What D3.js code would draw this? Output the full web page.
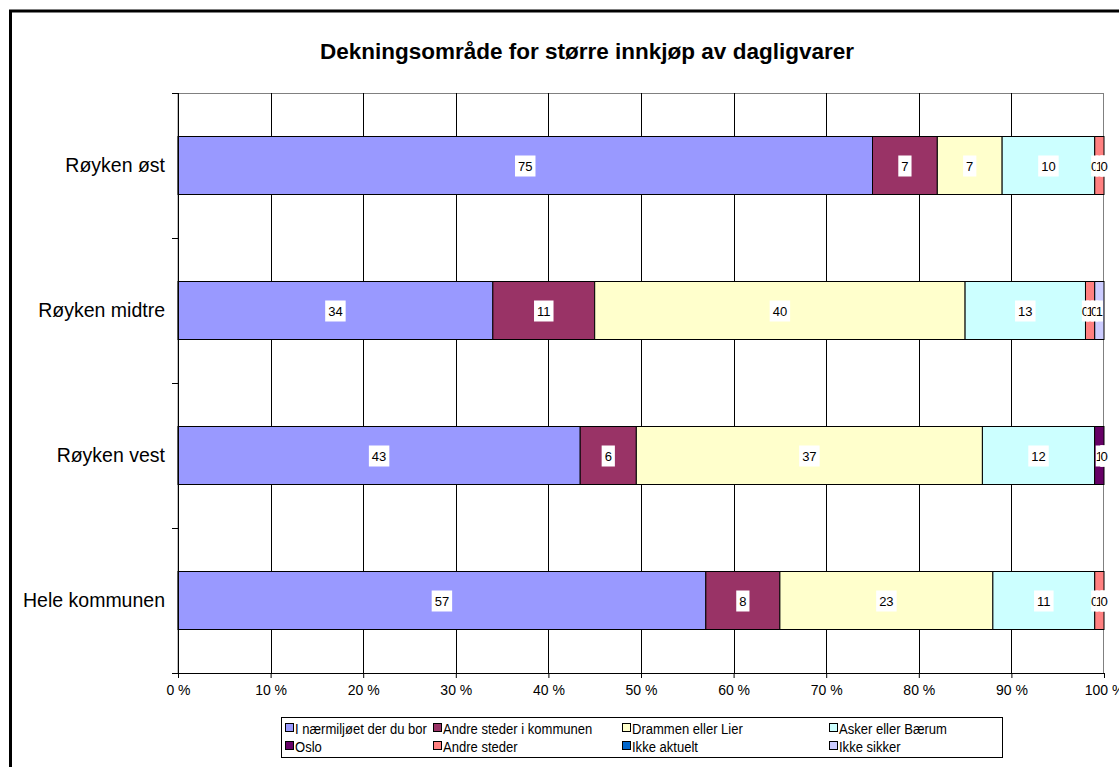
<!DOCTYPE html>
<html>
<head>
<meta charset="utf-8">
<script src="https://cdn.jsdelivr.net/npm/d3@7"></script>
<style>
  body { margin: 0; background: #fff; }
  text { font-family: Arial, "Liberation Sans", sans-serif; }
</style>
</head>
<body>
<svg width="1119" height="767"></svg>
<script>
var categories = ["Røyken øst", "Røyken midtre", "Røyken vest", "Hele kommunen"];
var seriesNames = ["I nærmiljøet der du bor", "Andre steder i kommunen", "Drammen eller Lier",
  "Asker eller Bærum", "Oslo", "Andre steder", "Ikke aktuelt", "Ikke sikker"];
var seriesColors = ["#9999FF", "#993366", "#FFFFCC", "#CCFFFF", "#660066", "#FF8080", "#0066CC", "#CCCCFF"];
// one array per series, in category order
var naermiljo   = [75, 34, 43, 57];
var andreKomm   = [7, 11, 6, 8];
var drammen     = [7, 40, 37, 23];
var asker       = [10, 13, 12, 11];
var oslo        = [0, 0, 1, 0];
var andreSteder = [1, 1, 0, 1];
var ikkeAktuelt = [0, 0, 0, 0];
var ikkeSikker  = [0, 1, 0, 0];
var tickValues = [0, 0.1, 0.2, 0.3, 0.4, 0.5, 0.6, 0.7, 0.8, 0.9, 1];

var seriesValues = [naermiljo, andreKomm, drammen, asker, oslo, andreSteder, ikkeAktuelt, ikkeSikker];
var rows = categories.map(function(c, i) {
  var r = {cat: c};
  seriesNames.forEach(function(s, j) { r[s] = seriesValues[j][i]; });
  return r;
});

var svg = d3.select('svg');

// outer chart frame
svg.append('rect').attr('x', 10.5).attr('y', 11).attr('width', 1120).attr('height', 770)
  .attr('fill', 'none').attr('stroke', '#000').attr('stroke-width', 3);

svg.append('text').attr('x', 587).attr('y', 59).attr('text-anchor', 'middle')
  .style('font-size', '22.5px').style('font-weight', 'bold')
  .text('Dekningsområde for større innkjøp av dagligvarer');

var pLeft = 178, pRight = 1104, pTop = 93, pBottom = 673;

var x = d3.scaleLinear().domain([0, 1]).range([pLeft, pRight]);
var y = d3.scaleBand().domain(categories).range([pTop, pBottom]).paddingInner(0.6).paddingOuter(0.3);
var yOuter = d3.scaleBand().domain(categories).range([pTop, pBottom]);

var stack = d3.stack().keys(seriesNames).offset(d3.stackOffsetExpand);
var stacked = stack(rows);

// plot border (gray top/right)
svg.append('rect').attr('x', pLeft).attr('y', pTop + 0.5).attr('width', pRight - pLeft - 0.5).attr('height', pBottom - pTop)
  .attr('fill', 'none').attr('stroke', '#808080').attr('stroke-width', 1);

// vertical gridlines
svg.append('g').selectAll('line').data(tickValues.slice(1, -1)).enter().append('line')
  .attr('x1', function(d) { return Math.round(x(d)) + 0.5; })
  .attr('x2', function(d) { return Math.round(x(d)) + 0.5; })
  .attr('y1', pTop).attr('y2', pBottom)
  .attr('stroke', '#000').attr('stroke-width', 1);

// bars
var layers = svg.append('g').selectAll('g').data(stacked).enter().append('g')
  .attr('fill', function(d, i) { return seriesColors[i]; });

layers.selectAll('rect').data(function(d) { return d; }).enter().append('rect')
  .filter(function(d) { return d[1] - d[0] > 0; })
  .attr('x', function(d) { return x(d[0]); })
  .attr('y', function(d) { return y(d.data.cat); })
  .attr('width', function(d) { return x(d[1]) - x(d[0]); })
  .attr('height', y.bandwidth())
  .attr('stroke', '#000').attr('stroke-width', 1);

// data labels with white boxes (overlap at the thin segments like the original)
var labels = svg.append('g');
stacked.forEach(function(layer) {
  layer.forEach(function(d) {
    var cx = (x(d[0]) + x(d[1])) / 2;
    var cy = y(d.data.cat) + y.bandwidth() / 2;
    var g = labels.append('g');
    var bg = g.append('rect').attr('fill', '#fff');
    var t = g.append('text').attr('x', cx).attr('y', cy + 5).attr('text-anchor', 'middle')
      .style('font-size', '13px').text(d.data[layer.key]);
    var w = t.node().getComputedTextLength();
    var pad = (x(d[1]) - x(d[0])) > 20 ? 3 : 0;
    bg.attr('x', cx - w / 2 - pad).attr('y', cy - 10).attr('width', w + 2 * pad).attr('height', 21);
  });
});

// axes
var xAxis = d3.axisBottom(x).tickValues(tickValues).tickSize(5)
  .tickFormat(function(d) { return Math.round(d * 100) + ' %'; });
var gx = svg.append('g').attr('transform', 'translate(0,' + pBottom + ')').call(xAxis);
gx.select('.domain').attr('d', 'M' + (pLeft - 6) + ',0.5H' + pRight).attr('stroke', '#000');
gx.selectAll('.tick line').attr('stroke', '#000');
gx.selectAll('.tick text').attr('y', 12).style('font-size', '14px')
  .style('font-family', 'Arial, "Liberation Sans", sans-serif').attr('fill', '#000');

var gy = svg.append('g');
gy.append('line').attr('x1', pLeft + 0.5).attr('x2', pLeft + 0.5).attr('y1', pTop).attr('y2', pBottom + 4)
  .attr('stroke', '#000');
var bounds = categories.map(function(c) { return yOuter(c); }).concat([pBottom]);
gy.selectAll('line.tk').data(bounds).enter().append('line').attr('class', 'tk')
  .attr('x1', pLeft - 6).attr('x2', pLeft).attr('y1', function(d) { return d + 0.5; })
  .attr('y2', function(d) { return d + 0.5; }).attr('stroke', '#000');
gy.selectAll('text').data(categories).enter().append('text')
  .attr('x', 165).attr('y', function(d) { return y(d) + y.bandwidth() / 2 + 6.5; })
  .attr('text-anchor', 'end').style('font-size', '19.5px').text(function(d) { return d; });

// legend
var lg = svg.append('g');
lg.append('rect').attr('x', 281.5).attr('y', 717.5).attr('width', 721).attr('height', 40)
  .attr('fill', '#fff').attr('stroke', '#000');
var colX = [285, 433, 622, 829];
seriesNames.forEach(function(s, i) {
  var lx = colX[i % 4], ly = 728 + Math.floor(i / 4) * 18;
  lg.append('rect').attr('x', lx + 0.5).attr('y', ly - 4.5).attr('width', 8).attr('height', 8)
    .attr('fill', seriesColors[i]).attr('stroke', '#000');
  lg.append('text').attr('transform', 'translate(' + (lx + 10) + ',' + (ly + 5.5) + ') scale(0.9,1)')
    .style('font-size', '14.5px').text(s);
});
</script>
</body>
</html>
